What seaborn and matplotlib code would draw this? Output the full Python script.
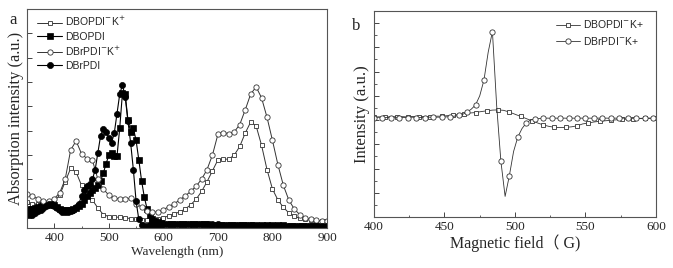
import numpy as np
import matplotlib
matplotlib.use("Agg")
import matplotlib.pyplot as plt
import seaborn as sns
from matplotlib.font_manager import FontProperties
from matplotlib.ticker import MultipleLocator

sns.set_style("ticks")
plt.rcParams['font.family'] = ['Liberation Serif', 'Noto Sans CJK SC', 'DejaVu Sans']

# ---- panel a: absorption spectra ----
wl_open = np.arange(350, 901, 10)
wl_black = np.r_[np.arange(350, 600, 5), np.arange(600, 901, 10)]

dbopdi_k = [1.05, 1.0, 0.98, 0.97, 1.0, 1.1, 1.35, 1.9, 2.45, 2.3, 1.75,
            1.4, 1.15, 0.82, 0.55, 0.47, 0.45, 0.44, 0.43, 0.38, 0.35,
            0.34, 0.33, 0.33, 0.36, 0.42, 0.5, 0.58, 0.66, 0.78, 0.95,
            1.18, 1.5, 1.9, 2.35, 2.8, 2.83, 2.83, 3.0, 3.35, 3.9,
            4.35, 4.2, 3.4, 2.4, 1.6, 1.15, 0.85, 0.62, 0.48, 0.4,
            0.35, 0.32, 0.3, 0.3, 0.3]
dbrpdi_k = [1.4, 1.3, 1.2, 1.12, 1.1, 1.2, 1.45, 2.0, 3.2, 3.58, 3.05,
            2.85, 2.78, 2.0, 1.6, 1.35, 1.22, 1.2, 1.2, 1.22, 1.0,
            0.85, 0.7, 0.65, 0.66, 0.75, 0.88, 1.0, 1.15, 1.32, 1.5,
            1.72, 2.0, 2.4, 3.0, 3.85, 3.92, 3.88, 3.95, 4.25, 4.85,
            5.5, 5.8, 5.35, 4.55, 3.6, 2.6, 1.75, 1.15, 0.78, 0.55,
            0.42, 0.35, 0.31, 0.29, 0.28]
dbopdi = [0.75, 0.78, 0.8, 0.83, 0.86, 0.9, 0.93, 0.95, 0.97, 0.96,
          0.93, 0.87, 0.8, 0.75, 0.72, 0.72, 0.74, 0.78, 0.84, 0.92,
          1.0, 1.15, 1.32, 1.45, 1.55, 1.65, 1.78, 1.95, 2.25, 2.65,
          2.98, 3.08, 2.95, 2.95, 4.1, 5.55, 5.5, 4.45, 3.95, 4.1,
          3.6, 2.8, 1.95, 1.28, 0.8, 0.52, 0.38, 0.29, 0.24, 0.2, 0.18,
          0.17, 0.17, 0.16, 0.16, 0.16, 0.15, 0.15, 0.15, 0.14, 0.14,
          0.14, 0.13, 0.13, 0.13, 0.12, 0.12, 0.12, 0.12, 0.11, 0.11,
          0.11, 0.11, 0.1, 0.1, 0.1, 0.1, 0.1, 0.1, 0.1, 0.1]
dbrpdi = [0.52, 0.52, 0.55, 0.6, 0.68, 0.75, 0.82, 0.9, 0.98, 1.0,
          0.92, 0.82, 0.72, 0.66, 0.64, 0.66, 0.7, 0.75, 0.85, 1.0,
          1.3, 1.58, 1.72, 1.82, 2.0, 2.4, 3.1, 3.8, 4.08, 3.95,
          3.7, 3.5, 3.9, 4.7, 5.5, 5.88, 5.4, 4.4, 3.5, 2.4,
          1.1, 0.35, 0.12, 0.08, 0.1, 0.12, 0.13, 0.14, 0.14, 0.15, 0.15,
          0.15, 0.16, 0.16, 0.17, 0.17, 0.17, 0.17, 0.16, 0.16, 0.15,
          0.14, 0.13, 0.12, 0.12, 0.11, 0.11, 0.1, 0.1, 0.1, 0.09,
          0.09, 0.09, 0.08, 0.08, 0.08, 0.08, 0.08, 0.08, 0.08, 0.08]

# ---- panel b: EPR ----
field_sq = np.arange(400, 601, 4)
field_ci = np.arange(400, 600, 3)
epr_dbopdi_k = [4.12, 4.13, 4.12, 4.14, 4.13, 4.14, 4.13, 4.15, 4.14, 4.15,
                4.14, 4.16, 4.16, 4.18, 4.2, 4.23, 4.26, 4.29, 4.31, 4.35,
                4.38, 4.41, 4.42, 4.4, 4.33, 4.24, 4.15, 4.06, 3.97, 3.88,
                3.8, 3.74, 3.7, 3.69, 3.7, 3.72, 3.76, 3.84, 3.88, 3.92,
                3.95, 3.97, 3.99, 4.01, 4.03, 4.04, 4.05, 4.06, 4.07, 4.07, 4.08]
epr_dbrpdi_k = [4.1, 4.12, 4.1, 4.11, 4.1, 4.12, 4.1, 4.11, 4.1, 4.12,
                4.1, 4.11, 4.1, 4.12, 4.11, 4.12, 4.12, 4.13, 4.14, 4.16,
                4.19, 4.24, 4.32, 4.45, 4.62, 5.0, 5.65, 6.8, 7.65, 4.6,
                2.3, 0.85, 1.7, 2.7, 3.3, 3.65, 3.88, 4.0, 4.04, 4.06,
                4.07, 4.08, 4.07, 4.08, 4.07, 4.08, 4.07, 4.08, 4.07, 4.08,
                4.07, 4.08, 4.07, 4.08, 4.07, 4.08, 4.07, 4.08, 4.07, 4.08,
                4.08, 4.07, 4.08, 4.07, 4.08, 4.08, 4.08]

fig = plt.figure(figsize=(6.73, 2.68), dpi=100)
ax1 = fig.add_axes([0.0401, 0.1493, 0.4458, 0.817])
ax2 = fig.add_axes([0.5557, 0.1903, 0.419, 0.7687])

edge = '#333333'
sns.lineplot(x=wl_open, y=dbopdi_k, ax=ax1, color=edge, lw=0.7, marker='s', ms=3.4,
             mfc='white', mec=edge, mew=0.6, label='DBOPDI$^{-}$K$^{+}$')
sns.lineplot(x=wl_black, y=dbopdi, ax=ax1, color='black', lw=0.8, marker='s', ms=3.9,
             mfc='black', mec='black', mew=0.5, label='DBOPDI')
sns.lineplot(x=wl_open, y=dbrpdi_k, ax=ax1, color=edge, lw=0.7, marker='o', ms=3.8,
             mfc='white', mec=edge, mew=0.6, label='DBrPDI$^{-}$K$^{+}$')
sns.lineplot(x=wl_black, y=dbrpdi, ax=ax1, color='black', lw=0.8, marker='o', ms=4.4,
             mfc='black', mec='black', mew=0.5, label='DBrPDI')

ax1.set_xlim(350, 900)
ax1.set_ylim(0, 9.0)
ax1.xaxis.set_major_locator(MultipleLocator(100))
ax1.xaxis.set_minor_locator(MultipleLocator(50))
ax1.yaxis.set_major_locator(MultipleLocator(1))
ax1.set_yticklabels([])
ax1.set_xlabel('Wavelength (nm)', fontsize=9.5, labelpad=1)
ax1.set_ylabel('Absorption intensity (a.u.)', fontsize=11.8, labelpad=-1)

sns.lineplot(x=field_sq, y=epr_dbopdi_k, ax=ax2, color=edge, lw=0.6, marker='s', ms=3.2,
             mfc='white', mec=edge, mew=0.6, markevery=2, label='DBOPDI$^{-}$K+')
sns.lineplot(x=field_ci, y=epr_dbrpdi_k, ax=ax2, color=edge, lw=0.6, marker='o', ms=3.8,
             mfc='white', mec=edge, mew=0.6, markevery=2, label='DBrPDI$^{-}$K+')

ax2.set_xlim(400, 600)
ax2.set_ylim(0, 8.5)
ax2.xaxis.set_major_locator(MultipleLocator(50))
ax2.xaxis.set_minor_locator(MultipleLocator(25))
ax2.yaxis.set_major_locator(MultipleLocator(1))
ax2.yaxis.set_minor_locator(MultipleLocator(0.5))
ax2.set_yticklabels([])
ax2.set_xlabel('Magnetic field\uff08 G)', fontsize=11.5, labelpad=1)
ax2.set_ylabel('Intensity (a.u.)', fontsize=12, labelpad=0)

leg_font = FontProperties(family=['Liberation Sans', 'DejaVu Sans'], size=7.5)
for ax in (ax1, ax2):
    ax.tick_params(which='both', direction='in', labelsize=9.5, pad=3, color='#444444')
    ax.tick_params(which='major', length=3.5, width=0.7)
    ax.tick_params(which='minor', length=1.8, width=0.6)
    for s in ax.spines.values():
        s.set_color('#555555')
        s.set_linewidth(0.8)
    ax.spines['top'].set_visible(True)
    ax.spines['right'].set_visible(True)

ax1.legend(loc='upper left', bbox_to_anchor=(0.02, 0.99), frameon=False, prop=leg_font,
           handlelength=2.4, handletextpad=0.3, labelspacing=0.3, borderaxespad=0)
ax2.legend(loc='upper left', bbox_to_anchor=(0.63, 0.985), frameon=False, prop=leg_font,
           handlelength=2.3, handletextpad=0.3, labelspacing=0.45, borderaxespad=0)

fig.text(13 / 673, 1 - 20 / 268, 'a', fontsize=12, ha='center', va='center')
fig.text(356 / 673, 1 - 26 / 268, 'b', fontsize=12, ha='center', va='center')

fig.savefig('out.png', dpi=100)
